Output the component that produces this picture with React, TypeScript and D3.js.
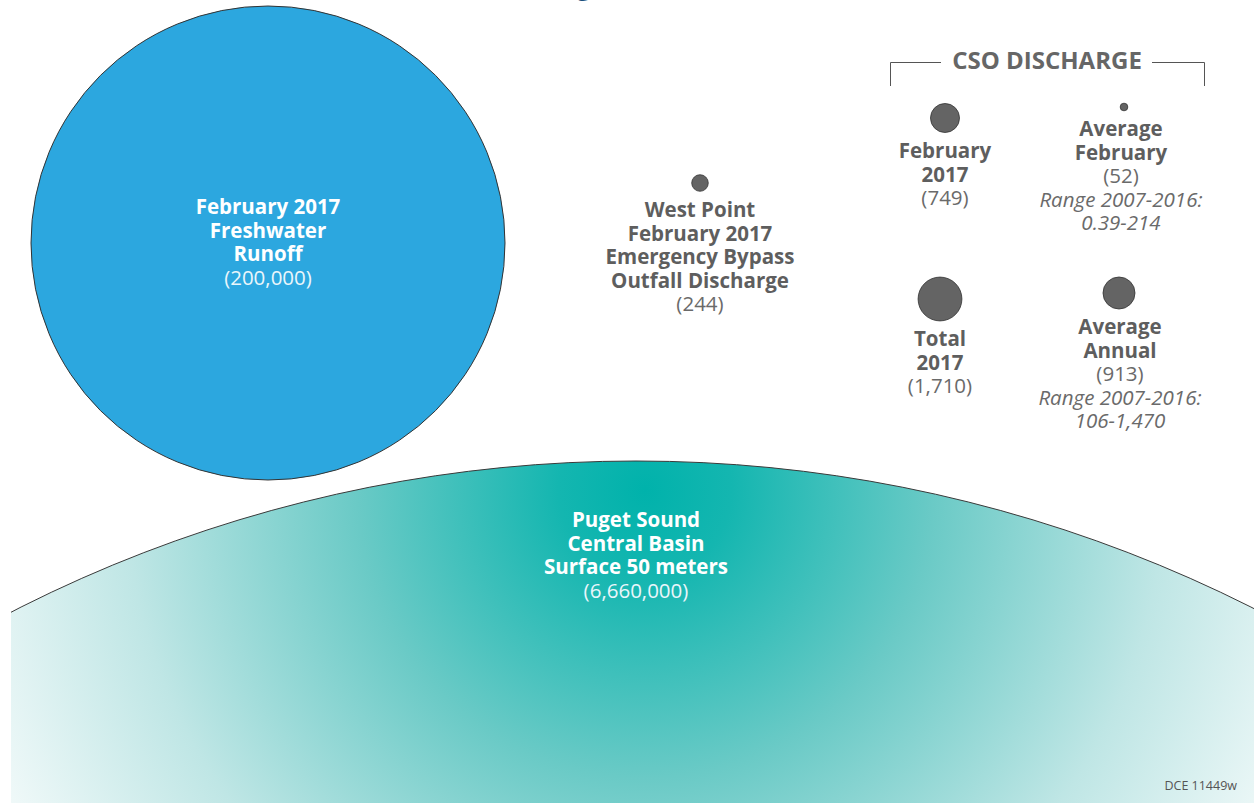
import React from "react";
import * as d3 from "d3";

// ---- data ----
const bigLabels = ["February 2017 Freshwater Runoff", "Puget Sound Central Basin Surface 50 meters"];
const bigValues = [200000, 6660000];
const smallLabels = [
  "West Point February 2017 Emergency Bypass Outfall Discharge",
  "February 2017",
  "Average February",
  "Total 2017",
  "Average Annual",
];
const smallValues = [244, 749, 52, 1710, 913];
const smallRanges = ["", "", "Range 2007-2016: 0.39-214", "", "Range 2007-2016: 106-1,470"];
const titleText = "(million gallons)";
const groupTitle = "CSO DISCHARGE";
const footnote = "DCE 11449w";

// ---- layout ----
const W = 1254;
const H = 803;
const FONT = "'Open Sans', 'Noto Sans', sans-serif";
const r = d3.scaleSqrt().domain([0, 200000]).range([0, 237]);
const fmt = d3.format(",");

const bigLayout = [
  { cx: 268, cy: 243, lines: ["February 2017", "Freshwater", "Runoff"], ty: 207 },
  { cx: 636, cy: 0, lines: ["Puget Sound", "Central Basin", "Surface 50 meters"], ty: 520 },
];
const smallLayout = [
  { cx: 700, cy: 183, tx: 700, lines: ["West Point", "February 2017", "Emergency Bypass", "Outfall Discharge"], ty: 210 },
  { cx: 945, cy: 118, tx: 945, lines: ["February", "2017"], ty: 151 },
  { cx: 1124, cy: 107, tx: 1121, lines: ["Average", "February"], ty: 129 },
  { cx: 940, cy: 299, tx: 940, lines: ["Total", "2017"], ty: 339 },
  { cx: 1119, cy: 293, tx: 1120, lines: ["Average", "Annual"], ty: 327 },
];
const LH = 23.6;
const FS = 20.5;

export default function App() {
  const tealR = r(bigValues[1]);
  const tealTop = 461;
  const tealCy = tealTop + tealR;
  const grey = "#5e5e5e";
  return (
    <svg width={W} height={H} style={{ position: "absolute", left: 0, top: 0, background: "#fff" }} fontFamily={FONT}>
      <defs>
        <radialGradient id="teal" gradientUnits="userSpaceOnUse" cx={645} cy={490} r={720}>
          <stop offset="0" stopColor="#00b2ab" />
          <stop offset="0.12" stopColor="#14b6b0" />
          <stop offset="0.4" stopColor="#6acac6" />
          <stop offset="0.72" stopColor="#bfe6e5" />
          <stop offset="1" stopColor="#f3fafa" />
        </radialGradient>
        <clipPath id="clipTeal">
          <rect x={11} y={0} width={W - 11} height={H} />
        </clipPath>
      </defs>

      <text x={575} y={-5} textAnchor="middle" fontSize={26} fill="#1c4f7c">{titleText}</text>

      {/* Puget Sound */}
      <g clipPath="url(#clipTeal)">
        <circle cx={bigLayout[1].cx} cy={tealCy} r={tealR} fill="url(#teal)" stroke="#3a3a3a" strokeWidth={1} />
      </g>
      {/* Freshwater */}
      <circle cx={bigLayout[0].cx} cy={bigLayout[0].cy} r={r(bigValues[0])} fill="#2ca7df" stroke="#333" strokeWidth={1} />

      {bigLayout.map((b, i) => (
        <g key={"b" + i} textAnchor="middle" fontSize={FS}>
          {b.lines.map((l, j) => (
            <text key={j} x={b.cx} y={b.ty + j * LH + 7} fill="#fff" fontWeight="bold">{l}</text>
          ))}
          <text x={b.cx} y={b.ty + b.lines.length * LH + 7} fill="#eaf6fb">({fmt(bigValues[i])})</text>
        </g>
      ))}
      <title>{bigLabels.join(" / ")}</title>

      {/* CSO bracket */}
      <g stroke="#555" strokeWidth={1} fill="none">
        <path d="M890.5,86 V62.5 H941" />
        <path d="M1152,62.5 H1204.5 V86" />
      </g>
      <text x={1047} y={69} textAnchor="middle" fontSize={24} fontWeight="bold" fill="#666">{groupTitle}</text>

      {smallLayout.map((s, i) => {
        const n = s.lines.length;
        const range = smallRanges[i];
        const parts = range ? [range.slice(0, range.indexOf(":") + 1), range.slice(range.indexOf(":") + 2)] : [];
        return (
          <g key={"s" + i} textAnchor="middle" fontSize={FS}>
            <circle cx={s.cx} cy={s.cy} r={r(smallValues[i])} fill="#646464" stroke="#333" strokeWidth={0.8} />
            <title>{smallLabels[i]}</title>
            {s.lines.map((l, j) => (
              <text key={j} x={s.tx} y={s.ty + j * LH + 7} fill={grey} fontWeight="bold">{l}</text>
            ))}
            <text x={s.tx} y={s.ty + n * LH + 7} fill="#6a6a6a">({fmt(smallValues[i])})</text>
            {parts.map((p, k) => (
              <text key={"r" + k} x={s.tx} y={s.ty + (n + 1 + k) * LH + 7} fill="#6a6a6a" fontStyle="italic">{p}</text>
            ))}
          </g>
        );
      })}

      <text x={1237} y={790} textAnchor="end" fontSize={12.5} fill="#555">{footnote}</text>
    </svg>
  );
}
